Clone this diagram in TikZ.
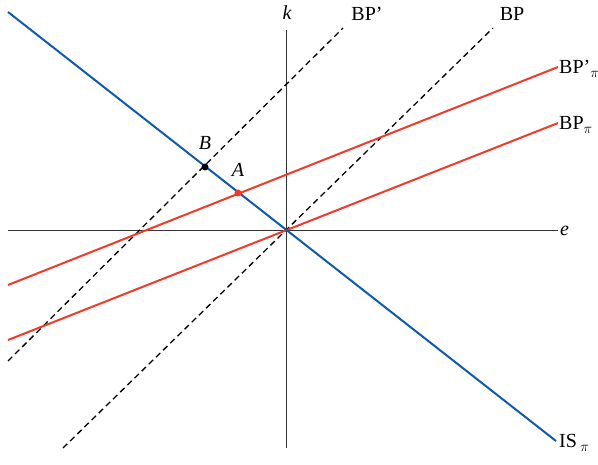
\documentclass[tikz,border=0pt]{standalone}
\usepackage{fontspec}
\setmainfont{Liberation Serif}
\begin{document}
\begin{tikzpicture}[x=1pt,y=-1pt,
  axis/.style={draw=black!80,line width=0.8pt},
  isline/.style={draw={rgb,255:red,16;green,90;blue,172},line width=2pt},
  bpline/.style={draw=black,line width=1.3pt,dash pattern=on 6pt off 4pt},
  piline/.style={draw={rgb,255:red,240;green,58;blue,44},line width=2pt},
  lbl/.style={font=\fontsize{20}{22}\selectfont,inner sep=1pt},
  ilbl/.style={font=\fontsize{20}{22}\selectfont\itshape,inner sep=1pt},
  dot/.style={circle,inner sep=0pt,minimum size=7pt}]
\useasboundingbox (0,0) rectangle (598,465);
% axes
\coordinate (ktop) at (286,30);
\coordinate (kbot) at (286,448);
\coordinate (eleft) at (8,230);
\coordinate (eright) at (558,230);
\draw[axis] (kbot) -- (ktop);
\draw[axis] (eleft) -- (eright);
% BP lines
\coordinate (bp1) at (63,448);
\coordinate (bp2) at (493,28);
\coordinate (bpp1) at (8,361);
\coordinate (bpp2) at (343,28);
\draw[bpline] (bp1) -- (bp2);
\draw[bpline] (bpp1) -- (bpp2);
% red lines
\coordinate (r1a) at (8,340);
\coordinate (r1b) at (558,123);
\coordinate (r2a) at (8,285);
\coordinate (r2b) at (558,67);
\draw[piline] (r1a) -- (r1b);
\draw[piline] (r2a) -- (r2b);
% IS line
\coordinate (is1) at (8,12);
\coordinate (is2) at (556,441);
\draw[isline] (is1) -- (is2);
% points
\node[dot,fill=black] (B) at (205,167) {};
\node[dot,fill={rgb,255:red,240;green,58;blue,44}] (A) at (238,193) {};
\node[ilbl] (Bl) at (205,143) {B};
\node[ilbl] (Al) at (238,170) {A};
% labels
\node[ilbl] (kl) at (287,13) {k};
\node[ilbl,anchor=west] (el) at (559,231) {e};
\node[lbl] (bppl) at (367,14) {BP’};
\node[lbl] (bpl) at (512,14) {BP};
\node[lbl,anchor=west] (bpppl) at (558,69) {BP’\raisebox{-4pt}{$\scriptstyle\pi$}};
\node[lbl,anchor=west] (bppil) at (558,125) {BP\raisebox{-4pt}{$\scriptstyle\pi$}};
\node[lbl,anchor=west] (ispil) at (558,443) {IS\,\raisebox{-4pt}{$\scriptstyle\pi$}};
\end{tikzpicture}
\end{document}
